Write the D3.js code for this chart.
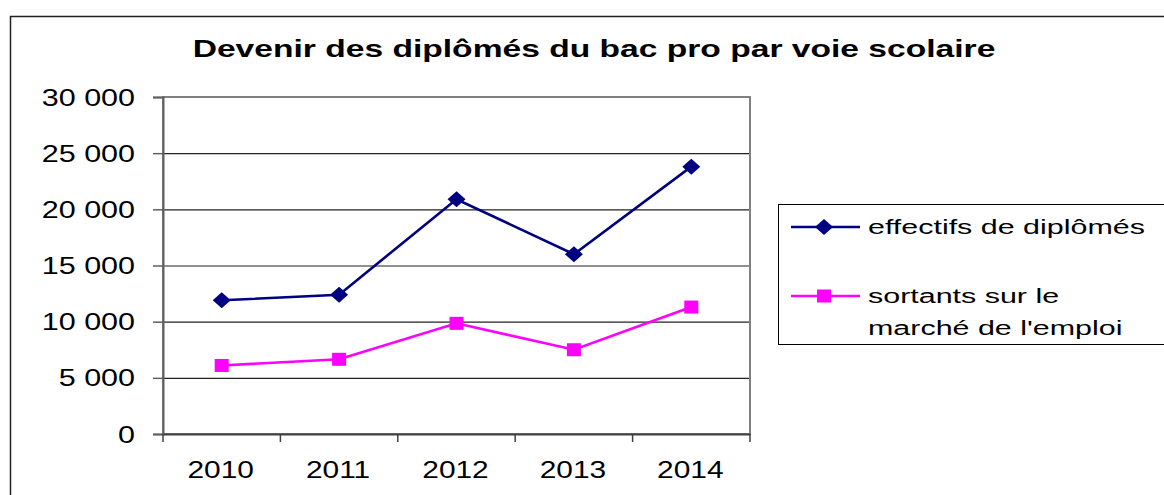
<!DOCTYPE html>
<html>
<head>
<meta charset="utf-8">
<script src="https://cdn.jsdelivr.net/npm/d3@7"></script>
<style>
  html, body { margin: 0; padding: 0; background: #fff; }
  svg { display: block; font-family: "Liberation Sans", Arial, sans-serif; }
</style>
</head>
<body>
<div id="chart"></div>
<script>
const years = ["2010", "2011", "2012", "2013", "2014"];
const diplomes = [11900, 12400, 20900, 16000, 23800];
const sortants = [6100, 6650, 9850, 7500, 11300];
const yTicks = [0, 5000, 10000, 15000, 20000, 25000, 30000];
const title = "Devenir des diplômés du bac pro par voie scolaire";
const series = [
  { name: ["effectifs de diplômés"], values: diplomes, color: "#000080", shape: "diamond" },
  { name: ["sortants sur le", "marché de l'emploi"], values: sortants, color: "#FF00FF", shape: "square" }
];

const W = 1164, H = 495;
const M = { top: 97, right: 414, bottom: 61, left: 163 };
// the original export draws its text stretched sideways
const STRETCH = { title: 1.40, y: 1.27, x: 1.3, legend: 1.45 };

const svg = d3.select("#chart").append("svg").attr("width", W).attr("height", H);

// outer chart frame (cut by window on right/bottom)
svg.append("path").attr("d", `M10.5,${H + 5} V16.5 H${W + 5}`)
  .attr("fill", "none").attr("stroke", "#222").attr("stroke-width", 1.5);

svg.append("text").attr("transform", `translate(594,57) scale(${STRETCH.title},1)`)
  .attr("text-anchor", "middle")
  .style("font-size", "24px").style("font-weight", "bold")
  .text(title);

const x = d3.scaleBand().domain(years).range([M.left, W - M.right]);
const y = d3.scaleLinear().domain([0, 30000]).range([H - M.bottom, M.top]);
const fmt = (d) => d3.format(",")(d).replace(/,/g, " ");

const g = svg.append("g");

// gridlines
g.append("g").attr("transform", `translate(${M.left},0)`)
  .call(d3.axisLeft(y).tickValues(yTicks.filter((d) => d > 0 && d < 30000)).tickSize(-(W - M.left - M.right)).tickFormat(""))
  .call((s) => s.select(".domain").remove())
  .call((s) => s.selectAll("line").attr("stroke", "#222").attr("stroke-width", 1.2));

// plot frame
g.append("rect").attr("x", M.left).attr("y", M.top)
  .attr("width", W - M.left - M.right).attr("height", H - M.top - M.bottom)
  .attr("fill", "none").attr("stroke", "#808080").attr("stroke-width", 2);

// y axis
const ay = g.append("g").attr("transform", `translate(${M.left},0)`)
  .call(d3.axisLeft(y).tickValues(yTicks).tickSize(10).tickFormat(fmt));
ay.select(".domain").attr("stroke", "#606060").attr("stroke-width", 2);
ay.selectAll("line").attr("stroke", "#606060").attr("stroke-width", 1.5);
ay.selectAll("text").attr("x", 0).attr("dy", "0.34em")
  .attr("transform", `translate(-28,0) scale(${STRETCH.y},1)`)
  .style("font-size", "24px").attr("fill", "#000")
  .style("font-family", "Liberation Sans, Arial, sans-serif");

// x axis with ticks at category boundaries
const ax = g.append("g").attr("transform", `translate(0,${H - M.bottom})`)
  .call(d3.axisBottom(x).tickSize(0));
ax.select(".domain").attr("stroke", "#404040").attr("stroke-width", 2);
ax.selectAll("text").attr("y", 0).attr("dy", 0)
  .attr("transform", `translate(-1,44) scale(${STRETCH.x},1)`)
  .style("font-size", "23px").attr("fill", "#000")
  .style("font-family", "Liberation Sans, Arial, sans-serif");
ax.selectAll(".bound").data(years.concat(["end"])).join("line").attr("class", "bound")
  .attr("x1", (d, i) => M.left + i * x.step()).attr("x2", (d, i) => M.left + i * x.step())
  .attr("y1", 0).attr("y2", 8).attr("stroke", "#404040").attr("stroke-width", 1.5);

const cx = (i) => x(years[i]) + x.bandwidth() / 2;
const line = d3.line().x((d, i) => cx(i)).y((d) => y(d));

function marker(sel, shape, color) {
  if (shape === "diamond") {
    sel.append("path").attr("d", "M0,-8 L9,0 L0,8 L-9,0 Z").attr("fill", color);
  } else {
    sel.append("rect").attr("x", -7).attr("y", -6.5).attr("width", 14).attr("height", 13).attr("fill", color);
  }
}

series.forEach((s) => {
  g.append("path").datum(s.values).attr("d", line).attr("fill", "none")
    .attr("stroke", s.color).attr("stroke-width", 2.6);
  g.selectAll(null).data(s.values).join("g")
    .attr("transform", (d, i) => `translate(${cx(i)},${y(d)})`)
    .each(function () { marker(d3.select(this), s.shape, s.color); });
});

// legend
const lg = svg.append("g");
lg.append("rect").attr("x", 778.5).attr("y", 204.5).attr("width", 400).attr("height", 140)
  .attr("fill", "#fff").attr("stroke", "#000").attr("stroke-width", 1);
const legY = [227, 296];
series.forEach((s, i) => {
  const row = lg.append("g").attr("transform", `translate(0,${legY[i]})`);
  row.append("line").attr("x1", 791).attr("x2", 860).attr("y1", 0).attr("y2", 0)
    .attr("stroke", s.color).attr("stroke-width", 2.6);
  row.append("g").attr("transform", "translate(824,0)").call((m) => marker(m, s.shape, s.color));
  s.name.forEach((t, j) => {
    row.append("text").attr("transform", `translate(868,${7 + j * 32}) scale(${STRETCH.legend},1)`)
      .style("font-size", "21px").text(t);
  });
});
</script>
</body>
</html>
